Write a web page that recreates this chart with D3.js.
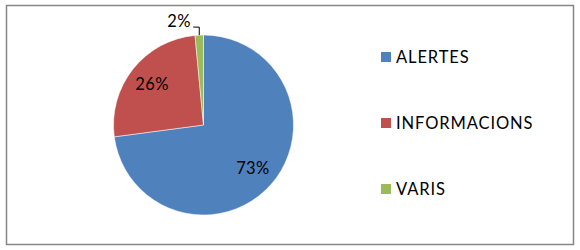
<!DOCTYPE html>
<html>
<head>
<meta charset="utf-8">
<script src="https://cdn.jsdelivr.net/npm/d3@7"></script>
<style>
  body { margin: 0; background: #fff; }
  svg text { font-family: Lato, "Open Sans", sans-serif; fill: #000; }
</style>
</head>
<body>
<svg id="chart" width="580" height="250"></svg>
<script>
// data
const categories = ["ALERTES", "INFORMACIONS", "VARIS"];
const values = [72.9, 25.6, 1.5];
const labels = ["73%", "26%", "2%"];
const colors = ["#4f81bd", "#c0504d", "#9bbb59"];

const svg = d3.select("#chart");

// frame
svg.append("rect")
    .attr("x", 6.5).attr("y", 5.5)
    .attr("width", 567).attr("height", 239)
    .attr("fill", "#fff")
    .attr("stroke", "#878787")
    .attr("stroke-width", 1.5);

const cx = 203.5, cy = 125, R = 90;

const color = d3.scaleOrdinal().domain(categories).range(colors);

const pie = d3.pie().sort(null).value(d => d.v);
const arcs = pie(categories.map((c, i) => ({ c: c, v: values[i], l: labels[i] })));

const arc = d3.arc().innerRadius(0).outerRadius(R);
const labelArc = d3.arc().innerRadius(R * 0.73).outerRadius(R * 0.73);
const edgeArc = d3.arc().innerRadius(R).outerRadius(R);

const g = svg.append("g").attr("transform", `translate(${cx},${cy})`);

g.selectAll("path")
    .data(arcs)
    .enter()
    .append("path")
    .attr("d", arc)
    .attr("fill", d => color(d.data.c))
    .attr("stroke", "#fff")
    .attr("stroke-width", 0.5);

// labels inside big slices, small one outside with a leader line
arcs.forEach(d => {
    if (d.data.v > 5) {
        const p = labelArc.centroid(d);
        g.append("text")
            .attr("x", p[0]).attr("y", p[1])
            .attr("text-anchor", "middle")
            .attr("dy", "0.35em")
            .attr("font-size", 16.5)
            .attr("letter-spacing", 0.4)
            .text(d.data.l);
    } else {
        const p = edgeArc.centroid(d);
        const ey = p[1] - 8, ex = p[0] - 6;
        g.append("path")
            .attr("d", `M${p[0]},${p[1]}V${ey}H${ex}`)
            .attr("fill", "none")
            .attr("stroke", "#000")
            .attr("stroke-width", 1);
        g.append("text")
            .attr("x", ex - 2.5).attr("y", ey - 0.5)
            .attr("text-anchor", "end")
            .attr("font-size", 16.5)
            .attr("letter-spacing", 0.4)
            .text(d.data.l);
    }
});

// legend
const ly = d3.scalePoint().domain(categories).range([57, 189]);
const legend = svg.append("g").selectAll("g")
    .data(categories)
    .enter()
    .append("g")
    .attr("transform", d => `translate(381,${ly(d)})`);

legend.append("rect")
    .attr("x", 0).attr("y", -5)
    .attr("width", 10).attr("height", 10)
    .attr("fill", d => color(d));

legend.append("text")
    .attr("x", 15).attr("y", 0)
    .attr("dy", "0.36em")
    .attr("font-size", 16.5)
    .attr("letter-spacing", 0.9)
    .text(d => d);
</script>
</body>
</html>
